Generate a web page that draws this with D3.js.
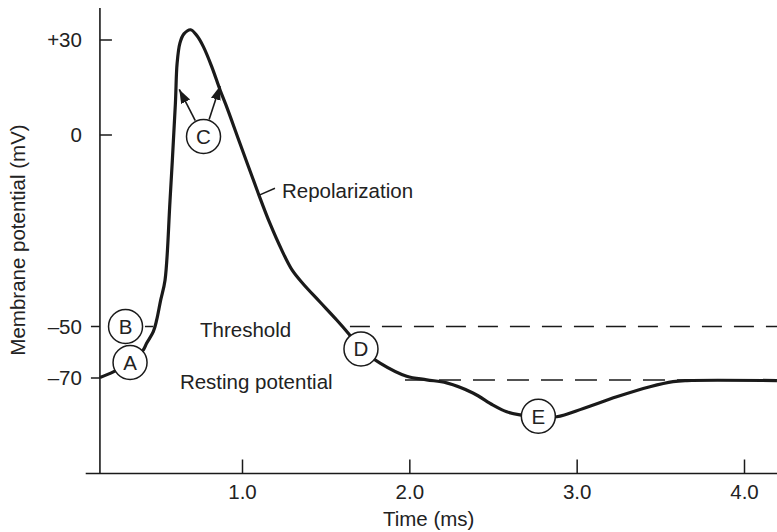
<!DOCTYPE html>
<html>
<head>
<meta charset="utf-8">
<script src="https://cdn.jsdelivr.net/npm/d3@7"></script>
<style>
  body { margin: 0; background: #fff; }
  svg text { font-family: "Liberation Sans", Arial, Helvetica, sans-serif; font-size: 20.5px; fill: #222; }
</style>
</head>
<body>
<div id="chart"></div>
<script>
// action potential trace: time (ms) and membrane potential (mV)
const times = [0.151, 0.231, 0.331, 0.410, 0.430, 0.470, 0.490, 0.514, 0.540, 0.570,
  0.602, 0.612, 0.629, 0.653, 0.693, 0.731, 0.769, 0.819, 0.869, 0.904,
  0.988, 1.097, 1.167, 1.237, 1.300, 1.366, 1.466, 1.566, 1.635, 1.711,
  1.825, 1.984, 2.104, 2.223, 2.380, 2.500, 2.582, 2.661, 2.769, 2.881,
  3.040, 3.239, 3.438, 3.576, 3.658, 4.197];
const volts = [-69.8, -67.6, -63.8, -59.1, -56.5, -52.0, -48.3, -43.1, -37.9, -17.0,
  10.0, 22.5, 29.0, 31.9, 33.2, 31.3, 27.9, 21.6, 14.2, 9.5,
  -2.2, -15.2, -23.1, -30.0, -35.3, -38.9, -43.6, -48.3, -52.6, -58.7,
  -64.2, -69.3, -70.7, -71.9, -75.8, -80.5, -83.1, -84.3, -85.1, -85.0,
  -81.8, -77.3, -73.4, -71.4, -71.0, -71.0];

const xTicks = [1, 2, 3, 4];
const xTickLabels = ["1.0", "2.0", "3.0", "4.0"];
const yTicks = [30, 0, -50, -70];
const yTickLabels = ["+30", "0", "–50", "–70"];

const threshold = -50;
const resting = -70.8;

// lettered circles on the trace
const markerLetters = ["A", "B", "C", "D", "E"];
const markerTimes = [0.331, 0.304, 0.770, 1.711, 2.771];
const markerVolts = [-64.0, -50.0, -0.4, -58.7, -84.8];

// the two arrows from C point at these spots on the curve
const arrowTimes = [0.625, 0.869];
const arrowVolts = [14.4, 15.5];

// text labels
const labelTexts = ["Threshold", "Resting potential", "Repolarization"];
const labelTimes = [0.749, 0.629, 1.239];
const labelVolts = [-54.0, -74.4, -16.4];

const width = 777, height = 532;
const ink = "#1a1a1a";

const svg = d3.select("#chart").append("svg")
  .attr("width", width)
  .attr("height", height);

const x = d3.scaleLinear().domain([1, 4]).range([242, 744]);
// the figure's voltage axis is not linear, so use a piecewise scale
const y = d3.scaleLinear()
  .domain([-107, -70, -50, 0, 30, 40])
  .range([473.5, 378, 326.5, 135, 40, 8]);

const tStart = 0.151;

svg.append("defs").append("marker")
  .attr("id", "head")
  .attr("markerUnits", "userSpaceOnUse")
  .attr("markerWidth", 15)
  .attr("markerHeight", 11)
  .attr("refX", 14)
  .attr("refY", 5)
  .attr("orient", "auto")
  .append("path")
  .attr("d", "M0,0 L14,5 L0,10 Z")
  .attr("fill", ink);

//dashed threshold / resting lines
svg.append("line")
  .attr("x1", x(1.645)).attr("x2", width)
  .attr("y1", y(threshold)).attr("y2", y(threshold))
  .attr("stroke", ink).attr("stroke-width", 1.5)
  .attr("stroke-dasharray", "20,12");
svg.append("line")
  .attr("x1", x(0.42)).attr("x2", x(0.47))
  .attr("y1", y(threshold)).attr("y2", y(threshold))
  .attr("stroke", ink).attr("stroke-width", 1.5);
svg.append("line")
  .attr("x1", x(1.974)).attr("x2", width)
  .attr("y1", y(resting)).attr("y2", y(resting))
  .attr("stroke", ink).attr("stroke-width", 1.5)
  .attr("stroke-dasharray", "22,12");

//axes
svg.append("line")
  .attr("x1", x(0.066)).attr("x2", width)
  .attr("y1", y(-107)).attr("y2", y(-107))
  .attr("stroke", ink).attr("stroke-width", 1.6);
svg.append("line")
  .attr("x1", x(tStart)).attr("x2", x(tStart))
  .attr("y1", y(40)).attr("y2", y(-107))
  .attr("stroke", ink).attr("stroke-width", 1.6);

const xAxis = svg.append("g")
  .attr("transform", `translate(0,${y(-107)})`)
  .call(d3.axisBottom(x)
    .tickValues(xTicks)
    .tickFormat((d, i) => xTickLabels[i])
    .tickSizeInner(-14)
    .tickSizeOuter(0)
    .tickPadding(10.5));
xAxis.select(".domain").remove();
xAxis.selectAll("line").attr("stroke", ink).attr("stroke-width", 1.5);
xAxis.selectAll("text").attr("font-size", null).attr("font-family", null);

// y ticks: positive ones point inward, negative ones outward
const yT = svg.append("g").selectAll("g")
  .data(yTicks)
  .enter()
  .append("g")
  .attr("transform", (d) => `translate(${x(tStart)},${y(d)})`);
yT.append("line")
  .attr("x1", 0)
  .attr("x2", (d) => (d >= 0 ? 12 : -9))
  .attr("stroke", ink).attr("stroke-width", 1.5);
yT.append("text")
  .attr("x", -18)
  .attr("dy", "0.36em")
  .attr("text-anchor", "end")
  .text((d, i) => yTickLabels[i]);

//axis titles
svg.append("text")
  .attr("transform", `translate(25,240) rotate(-90)`)
  .attr("text-anchor", "middle")
  .text("Membrane potential (mV)");
svg.append("text")
  .attr("x", 428.7)
  .attr("y", 526)
  .attr("text-anchor", "middle")
  .text("Time (ms)");

//the trace
const line = d3.line()
  .x((d) => x(d[0]))
  .y((d) => y(d[1]))
  .curve(d3.curveCatmullRom.alpha(0.5));
svg.append("path")
  .datum(d3.zip(times, volts))
  .attr("d", line)
  .attr("fill", "none")
  .attr("stroke", ink)
  .attr("stroke-width", 3.2)
  .attr("stroke-linejoin", "round");

//repolarization leader
svg.append("line")
  .attr("x1", x(1.103)).attr("y1", y(-15.7))
  .attr("x2", x(1.197)).attr("y2", y(-13.9))
  .attr("stroke", ink).attr("stroke-width", 1.5);

//text labels
svg.append("g").selectAll("text")
  .data(labelTexts)
  .enter()
  .append("text")
  .attr("x", (d, i) => x(labelTimes[i]))
  .attr("y", (d, i) => y(labelVolts[i]))
  .text((d) => d);

//arrows from C
const r = 17;
const cx = x(markerTimes[2]), cy = y(markerVolts[2]);
arrowTimes.forEach(function (t, i) {
  const tx = x(t), ty = y(arrowVolts[i]);
  const len = Math.hypot(tx - cx, ty - cy);
  svg.append("line")
    .attr("x1", cx + ((tx - cx) / len) * (r + 1))
    .attr("y1", cy + ((ty - cy) / len) * (r + 1))
    .attr("x2", tx)
    .attr("y2", ty)
    .attr("stroke", ink)
    .attr("stroke-width", 1.6)
    .attr("marker-end", "url(#head)");
});

//lettered circles
const marks = svg.append("g").selectAll("g")
  .data(markerLetters)
  .enter()
  .append("g")
  .attr("transform", (d, i) => `translate(${x(markerTimes[i])},${y(markerVolts[i])})`);
marks.append("circle")
  .attr("r", r)
  .attr("fill", "#fff")
  .attr("stroke", ink)
  .attr("stroke-width", 1.5);
marks.append("text")
  .attr("text-anchor", "middle")
  .attr("dy", "0.36em")
  .text((d) => d);
</script>
</body>
</html>
